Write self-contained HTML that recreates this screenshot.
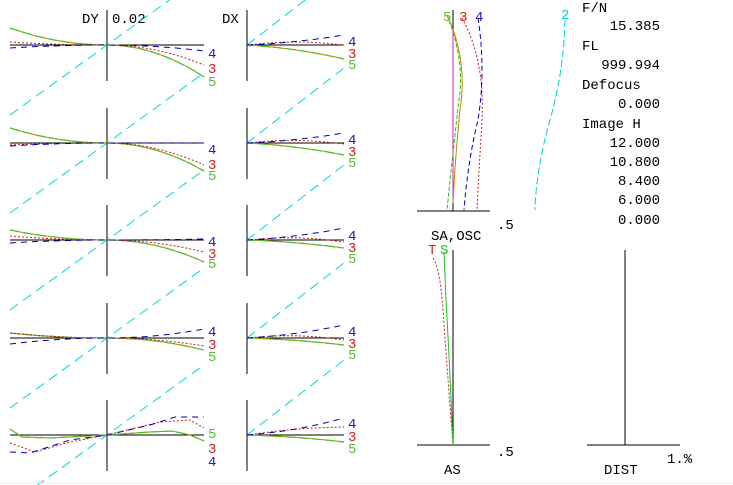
<!DOCTYPE html>
<html><head><meta charset="utf-8"><style>
body{margin:0;background:#fff;width:733px;height:485px;overflow:hidden}
svg{display:block}
text{font-family:"Liberation Mono","Courier New",monospace;font-size:14px}
</style></head><body>
<svg id="s" width="733" height="485" viewBox="0 0 733 485" xmlns="http://www.w3.org/2000/svg">
<text x="82" y="23">DY</text><text x="112" y="23">0.02</text><text x="222" y="23">DX</text>
<g font-size="14">
<text x="582" y="12">F/N</text><text x="660" y="30" text-anchor="end">15.385</text>
<text x="582" y="50">FL</text><text x="660" y="69" text-anchor="end">999.994</text>
<text x="582" y="89">Defocus</text><text x="660" y="108" text-anchor="end">0.000</text>
<text x="582" y="128">Image H</text><text x="660" y="147" text-anchor="end">12.000</text>
<text x="660" y="166" text-anchor="end">10.800</text><text x="660" y="185" text-anchor="end">8.400</text>
<text x="660" y="204" text-anchor="end">6.000</text><text x="660" y="224" text-anchor="end">0.000</text>
</g>
<line x1="453" y1="10" x2="453" y2="211" stroke="#000"/>
<line x1="417" y1="211" x2="490" y2="211" stroke="#000"/>
<text x="497" y="229">.5</text>
<path d="M453,30 L453,203" stroke="#d020d0" fill="none"/>
<path d="M447,15 Q468,60 460,110 Q455,160 453,203" stroke="#d08000" fill="none"/>
<path d="M447,15 Q465,60 459,100 Q452,160 447,210" stroke="#20c020" fill="none" stroke-dasharray="4,2"/>
<path d="M462,18 Q485,60 482,120 Q479,170 477,210" stroke="#c02020" fill="none" stroke-dasharray="2,2"/>
<path d="M478,18 Q486,70 478,120 Q468,160 464,210" stroke="#0000c0" fill="none" stroke-dasharray="5,3"/>
<path d="M565,20 Q564,70 550,120 Q536,170 535,210" stroke="#00d0d0" fill="none" stroke-dasharray="7,3"/>
<text x="443" y="21" fill="#60c020" font-size="13">5</text>
<text x="459" y="21" fill="#d02020" font-size="13">3</text>
<text x="475" y="21" fill="#2020c0" font-size="13">4</text>
<text x="561" y="19" fill="#00d0d0" font-size="13">2</text>
<text x="431" y="240">SA,OSC</text>
<text x="428" y="254" fill="#d02020">T</text><text x="440" y="254" fill="#20c020">S</text>
<line x1="453" y1="250" x2="453" y2="445" stroke="#000"/>
<line x1="417" y1="445" x2="490" y2="445" stroke="#000"/>
<text x="497" y="456">.5</text><text x="444" y="474">AS</text>
<path d="M433,258 Q440,268 443,310 Q448,380 453,445" stroke="#c02020" fill="none" stroke-dasharray="2,2"/>
<path d="M444,252 L446,300 Q450,370 453,445" stroke="#20c020" fill="none"/>
<line x1="625" y1="250" x2="625" y2="445" stroke="#000"/>
<line x1="587" y1="445" x2="680" y2="445" stroke="#000"/>
<text x="667" y="463">1.%</text><text x="604" y="474">DIST</text>
<g id="fans"></g>
<line x1="0" y1="483" x2="733" y2="483" stroke="#e8e8e8"/>
</svg>
<script>
var g=document.getElementById('fans'),h='';
var rows=[45,143,240,338,435];
var p=[
 {g:[-17,32],r:[-3,20],b:[3,6],dx:[14,0,-10],lab:[7,22,35],dl:[-5,7,18]},
 {g:[-15,28],r:[2,22],b:[3,0],dx:[12,1,-10],lab:[5,20,31],dl:[-5,7,18]},
 {g:[-10,22],r:[-4,12],b:[3,-1],dx:[8,2,-12],lab:[0,12,22],dl:[-6,6,17]},
 {g:[-5,12],r:[-5,8],b:[6,-9],dx:[7,2,-13],lab:[-8,5,17],dl:[-8,4,15]},
 {g:[-8,0],r:[-12,-4],b:[-18,-12],dx:[7,-8,-17],lab:[-3,12,25],dl:[-13,0,12]}];
function path(pts,st){return '<path d="M'+pts.map(a=>a[0].toFixed(1)+','+a[1].toFixed(1)).join(' L')+'" fill="none" '+st+'/>';}
rows.forEach(function(y,i){
 var q=p[i];
 h+='<line x1="107" y1="'+(y-35)+'" x2="107" y2="'+(y+36)+'" stroke="#000"/>';
 h+='<line x1="10" y1="'+y+'" x2="204" y2="'+y+'" stroke="#000"/>';
 h+='<line x1="247" y1="'+(y-35)+'" x2="247" y2="'+(y+36)+'" stroke="#000"/>';
 h+='<line x1="247" y1="'+y+'" x2="344" y2="'+y+'" stroke="#000"/>';
 h+=path([[10,y+70],[204,y-70]],'stroke="#00d8d8" stroke-dasharray="10,6"');
 h+=path([[247,y],[344,y-75]],'stroke="#00d8d8" stroke-dasharray="10,6"');
 function fan(L,R){var pts=[];for(var k=0;k<=20;k++){var t=k/10-1,x=107+t*97;var v=t<0?L*t*t:R*t*t;pts.push([x,y+v]);}return pts;}
 var gp,rp,bp;
 if(i<4){gp=fan(q.g[0],q.g[1]);rp=fan(q.r[0],q.r[1]);bp=fan(q.b[0],q.b[1]);}
 else{gp=[[10,y-6],[22,y+2],[50,y+3],[107,y],[150,y-3],[172,y-4],[190,y],[204,y+6]];
  rp=[[10,y+8],[35,y+17],[70,y+7],[107,y],[160,y-13],[190,y-15],[204,y-7]];
  bp=[[10,y+17],[30,y+18],[70,y+5],[107,y],[150,y-10],[175,y-18],[204,y-18]];}
 h+=path(gp,'stroke="#d08000" stroke-width="1"');
 h+=path(gp,'stroke="#50c030" stroke-width="1.3" stroke-dasharray="10,3"');
 h+=path(rp,'stroke="#c02020" stroke-dasharray="2,2"');
 h+=path(bp,'stroke="#0000b0" stroke-dasharray="6,5"');
 function half(e){var pts=[];for(var k=0;k<=10;k++){var t=k/10;pts.push([247+t*97,y+e*(0.4*t+0.6*t*t)]);}return pts;}
 var rr=half(q.dx[1]).map(function(a,k){return [a[0],a[1]-3*Math.sin(Math.PI*k/10)];});
 h+=path(half(q.dx[0]),'stroke="#d08000"');
 h+=path(half(q.dx[0]),'stroke="#50c030" stroke-width="1.3" stroke-dasharray="10,3"');
 h+=path(rr,'stroke="#c02020" stroke-dasharray="2,2"');
 h+=path(half(q.dx[2]),'stroke="#0000b0" stroke-dasharray="6,5"');
 var labs=i<4?[['4','#2020c0'],['3','#d02020'],['5','#50c030']]:[['5','#50c030'],['3','#d02020'],['4','#2020c0']];
 labs.forEach(function(l,k){h+='<text x="208" y="'+(y+q.lab[k]+6)+'" fill="'+l[1]+'" font-size="14">'+l[0]+'</text>';});
 [['4','#2020c0'],['3','#d02020'],['5','#50c030']].forEach(function(l,k){h+='<text x="348" y="'+(y+q.dl[k]+6)+'" fill="'+l[1]+'" font-size="14">'+l[0]+'</text>';});
});
g.innerHTML=h;
</script>
</body></html>
